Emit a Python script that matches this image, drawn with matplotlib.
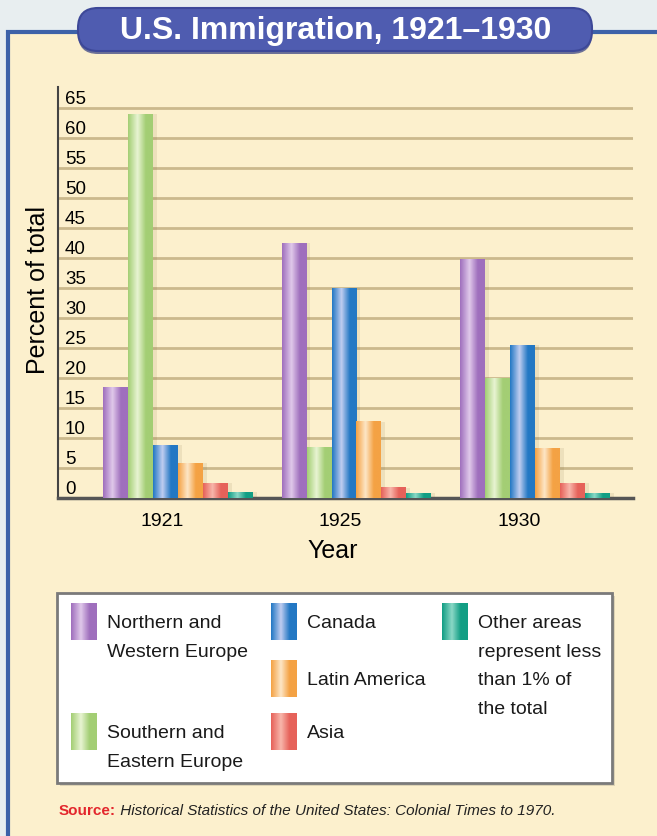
import numpy as np
import matplotlib.pyplot as plt
from matplotlib.colors import LinearSegmentedColormap
from matplotlib.patches import FancyBboxPatch, Rectangle

plt.rcParams['font.family'] = ['Liberation Sans Narrow', 'Liberation Sans', 'DejaVu Sans']

# data (percent of total immigration)
years = ['1921', '1925', '1930']
regions = ['Northern and\nWestern Europe', 'Southern and\nEastern Europe', 'Canada',
           'Latin America', 'Asia', 'Other areas\nrepresent less\nthan 1% of\nthe total']
nw_europe = [18.5, 42.5, 39.7]
se_europe = [64.0, 8.5, 20.0]
canada = [8.8, 35.0, 25.5]
latin_america = [5.8, 12.7, 8.3]
asia = [2.5, 1.7, 2.5]
other = [1.0, 0.8, 0.8]
series = [nw_europe, se_europe, canada, latin_america, asia, other]

# base colour, highlight colour for the cylinder look
colors = [('#9f6fbd', '#e0c8ea'), ('#a3ce74', '#e8f4d2'), ('#2378c4', '#bfcdf0'),
          ('#f4a244', '#fde6c6'), ('#e6625a', '#f8b6ab'), ('#129e84', '#8ad8c6')]


def make_cmap(base, light):
    return LinearSegmentedColormap.from_list(
        'c', [(0, base), (0.38, light), (0.72, base), (1.0, base)])


grad = np.linspace(0, 1, 64).reshape(1, -1)

fig = plt.figure(figsize=(6.57, 8.36), dpi=100)
fig.patch.set_facecolor('#e8eef0')

# background layer in pixel units
bg = fig.add_axes([0, 0, 1, 1], zorder=0)
bg.axis('off')
bg.add_patch(Rectangle((8, 32), 660, 820, facecolor='#fcf0cd', edgecolor='#3d62a8', lw=3))
bg.add_patch(FancyBboxPatch((78, 12), 514, 42, boxstyle='round,pad=0,rounding_size=20',
                            fc='#2f3a80', ec='none', alpha=0.7))
bg.add_patch(FancyBboxPatch((78, 8), 514, 43, boxstyle='round,pad=0,rounding_size=20',
                            fc='#4f5cb0', ec='#3d4898', lw=1.5))
bg.text(336, 31, 'U.S. Immigration, 1921\u20131930', color='white', fontsize=23,
        fontweight='bold', ha='center', va='center')

# legend box
bg.add_patch(Rectangle((60, 596), 555, 190, fc='#b0a890', ec='none', alpha=0.4))
bg.add_patch(Rectangle((57, 593), 555, 190, fc='white', ec='#7a7a7a', lw=2))
sw_pos = [(71, 603), (71, 713), (271, 603), (271, 660), (271, 713), (442, 603)]
for (sx, sy), (base, light), name in zip(sw_pos, colors, regions):
    bg.imshow(grad, cmap=make_cmap(base, light), aspect='auto',
              extent=[sx, sx + 26, sy + 37, sy], zorder=3)
    bg.text(sx + 36, sy + 12, name, fontsize=14, va='top', ha='left',
            linespacing=1.9, color='#1a1a1a')

t1 = bg.text(59, 818, 'Source:', color='#e3262c', fontweight='bold', fontsize=11,
             va='bottom')
bg.annotate(' Historical Statistics of the United States: Colonial Times to 1970.',
            xy=(1, 0), xycoords=t1, va='bottom', ha='left', fontstyle='italic',
            fontsize=11, color='#222222')
bg.set_xlim(0, 657)
bg.set_ylim(836, 0)

# the chart
ax = fig.add_axes([0.0883, 0.4043, 0.8752, 0.4916], zorder=2)
ax.set_facecolor('none')
x = np.arange(len(years))
w = 0.14
for k, (vals, (base, light)) in enumerate(zip(series, colors)):
    off = (k - 2.5) * w
    ax.bar(x + off + 0.02, vals, w, color='#6b5a30', alpha=0.1, zorder=2.5)
    bars = ax.bar(x + off, vals, w, color='none', edgecolor='none', zorder=3)
    cm = make_cmap(base, light)
    for r in bars:
        ax.imshow(grad, cmap=cm, aspect='auto', zorder=3,
                  extent=[r.get_x(), r.get_x() + r.get_width(), 0, r.get_height()])

ax.set_xlim(-0.672, 2.549)
ax.set_ylim(0, 68.5)
ax.set_yticks(range(0, 70, 5))
ax.grid(axis='y', color='#cbb98c', lw=2)
ax.set_axisbelow(True)
ax.tick_params(axis='y', length=0, pad=-5, labelsize=13.5)
for lbl in ax.get_yticklabels():
    lbl.set_horizontalalignment('left')
    lbl.set_verticalalignment('bottom')
ax.set_xticks(x - 0.09, years)
ax.tick_params(axis='x', length=0, pad=11, labelsize=14)

for s in ['top', 'right']:
    ax.spines[s].set_visible(False)
ax.spines['left'].set_color('#444444')
ax.spines['left'].set_linewidth(1.5)
ax.spines['bottom'].set_color('#555555')
ax.spines['bottom'].set_linewidth(2.5)

ax.set_ylabel('Percent of total', fontsize=18)
ax.yaxis.set_label_coords(-0.014, 0.506)
ax.set_xlabel('Year', fontsize=18)
ax.xaxis.set_label_coords(0.478, -0.1)

fig.savefig('out.png', dpi=100, facecolor=fig.get_facecolor())
